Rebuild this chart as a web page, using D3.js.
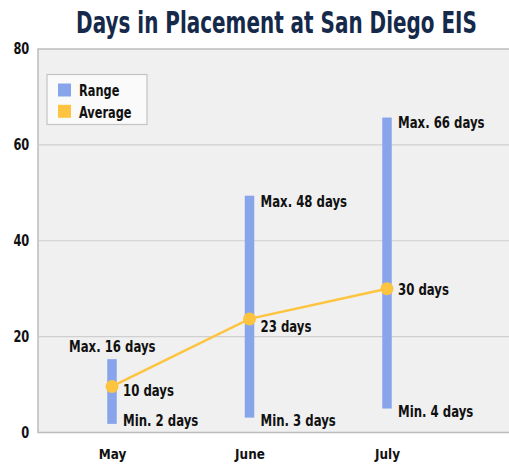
<!DOCTYPE html>
<html>
<head>
<meta charset="utf-8">
<script src="https://cdn.jsdelivr.net/npm/d3@7"></script>
<style>
  body { margin: 0; background: #fff; }
  text { font-family: "DejaVu Sans Condensed", "Liberation Sans Narrow", sans-serif; font-weight: bold; }
</style>
</head>
<body>
<div id="chart"></div>
<script>
'use strict';

// data
var months = ['May', 'June', 'July'];
var minDays = [1.8, 3.1, 5.0];
var maxDays = [15.3, 49.4, 65.7];
var avgDays = [9.6, 23.7, 30.0];
var minLabels = ['Min. 2 days', 'Min. 3 days', 'Min. 4 days'];
var maxLabels = ['Max. 16 days', 'Max. 48 days', 'Max. 66 days'];
var avgLabels = ['10 days', '23 days', '30 days'];
var yTicks = [0, 20, 40, 60, 80];

var W = 509, H = 464;
var margin = {top: 49, right: -4, bottom: 31.5, left: 38};
var width = W - margin.left - margin.right,
	height = H - margin.top - margin.bottom;

var blue = '#88a5eb', yellow = '#fdc43f';
var squeeze = 0.79;

// squash glyphs horizontally (around the anchor) to mimic a condensed face
function condense(sel, factor) {
	sel.each(function() {
		var t = d3.select(this);
		var tx = +t.attr('x') || 0, ty = +t.attr('y') || 0;
		var f = typeof factor === 'function' ? factor(this) : factor;
		t.attr('x', 0).attr('y', 0)
			.attr('transform', 'translate(' + tx + ',' + ty + ') scale(' + f + ',1)');
	});
}

var svg = d3.select('#chart').append('svg')
	.attr('width', W)
	.attr('height', H);

svg.append('text')
	.attr('x', 276.5)
	.attr('y', 33)
	.attr('text-anchor', 'middle')
	.style('font-size', '30px')
	.style('fill', '#15294a')
	.text('Days in Placement at San Diego EIS')
	.call(condense, function(node) { return 401 / node.getComputedTextLength(); });

var g = svg.append('g')
	.attr('transform', 'translate(' + margin.left + ',' + margin.top + ')');

var x = d3.scalePoint().domain(months).range([74, 349]);
var y = d3.scaleLinear().domain([0, 80]).range([height, 0]);

// plot background
g.append('rect')
	.attr('width', width)
	.attr('height', height)
	.style('fill', '#f0f0f0')
	.style('stroke', '#bcbcbc')
	.style('stroke-width', 1.5);

// grid lines
g.selectAll('line.grid')
	.data(yTicks.filter(function(d) { return d > 0 && d < 80; }))
	.enter().append('line')
	.attr('class', 'grid')
	.attr('x1', 1).attr('x2', width)
	.attr('y1', function(d) { return y(d); })
	.attr('y2', function(d) { return y(d); })
	.style('stroke', '#cfcfcf')
	.style('stroke-width', 1.2);

// y axis labels
var yAxis = d3.axisLeft(y).tickValues(yTicks).tickSize(0).tickPadding(8.7);
g.append('g').call(yAxis)
	.attr('font-family', null)
	.call(function(sel) { sel.select('.domain').remove(); })
	.selectAll('text')
	.style('font-size', '15.5px')
	.style('fill', '#111')
	.call(condense, 0.82);

// x axis labels
var xAxis = d3.axisBottom(x).tickSize(0).tickPadding(16.4);
g.append('g')
	.attr('transform', 'translate(0,' + height + ')')
	.call(xAxis)
	.attr('font-family', null)
	.call(function(sel) { sel.select('.domain').remove(); })
	.selectAll('text')
	.style('font-size', '14.7px')
	.style('fill', '#111')
	.call(condense, 0.91);

// range bars
var barW = 9.5;
g.selectAll('rect.range')
	.data(months)
	.enter().append('rect')
	.attr('class', 'range')
	.attr('x', function(d) { return x(d) - barW / 2; })
	.attr('y', function(d, i) { return y(maxDays[i]); })
	.attr('width', barW)
	.attr('height', function(d, i) { return y(minDays[i]) - y(maxDays[i]); })
	.style('fill', blue);

// average line + dots
var line = d3.line()
	.x(function(d, i) { return x(months[i]); })
	.y(function(d) { return y(d); });

g.append('path')
	.datum(avgDays)
	.attr('d', line)
	.style('fill', 'none')
	.style('stroke', yellow)
	.style('stroke-width', 2.5);

g.selectAll('circle.avg')
	.data(avgDays)
	.enter().append('circle')
	.attr('class', 'avg')
	.attr('cx', function(d, i) { return x(months[i]); })
	.attr('cy', function(d) { return y(d); })
	.attr('r', 6.5)
	.style('fill', yellow);

var lab = g.append('g')
	.style('font-size', '16.5px')
	.style('fill', '#111');

// max labels: first one sits above the bar, others to the right of the top
lab.selectAll('text.max')
	.data(maxLabels)
	.enter().append('text')
	.attr('x', function(d, i) { return i === 0 ? x(months[i]) - 43 : x(months[i]) + 11; })
	.attr('y', function(d, i) { return i === 0 ? y(maxDays[i]) - 7 : y(maxDays[i]) + 5; })
	.attr('dy', function(d, i) { return i === 0 ? '0' : '0.36em'; })
	.text(function(d) { return d; })
	.call(condense, squeeze);

lab.selectAll('text.min')
	.data(minLabels)
	.enter().append('text')
	.attr('x', function(d, i) { return x(months[i]) + 11; })
	.attr('y', function(d, i) { return Math.min(y(minDays[i]) + 3, height - 12.5); })
	.attr('dy', '0.36em')
	.text(function(d) { return d; })
	.call(condense, squeeze);

var avgShift = [4, 7, 0];
lab.selectAll('text.avg')
	.data(avgLabels)
	.enter().append('text')
	.attr('x', function(d, i) { return x(months[i]) + 11; })
	.attr('y', function(d, i) { return y(avgDays[i]) + avgShift[i]; })
	.attr('dy', '0.36em')
	.text(function(d) { return d; })
	.call(condense, squeeze);

// legend
var legend = svg.append('g').attr('transform', 'translate(47,74.5)');
legend.append('rect')
	.attr('width', 100)
	.attr('height', 50)
	.style('fill', '#fafafa')
	.style('stroke', '#c4c4c4')
	.style('stroke-width', 1.2);

var items = [{name: 'Range', color: blue}, {name: 'Average', color: yellow}];
var li = legend.selectAll('g.item')
	.data(items)
	.enter().append('g')
	.attr('transform', function(d, i) { return 'translate(11,' + (9 + i * 21.3) + ')'; });
li.append('rect')
	.attr('width', 13).attr('height', 13)
	.style('fill', function(d) { return d.color; });
li.append('text')
	.attr('x', 21)
	.attr('y', 7)
	.attr('dy', '0.36em')
	.style('font-size', '16px')
	.style('fill', '#111')
	.text(function(d) { return d.name; })
	.call(condense, squeeze);
</script>
</body>
</html>
